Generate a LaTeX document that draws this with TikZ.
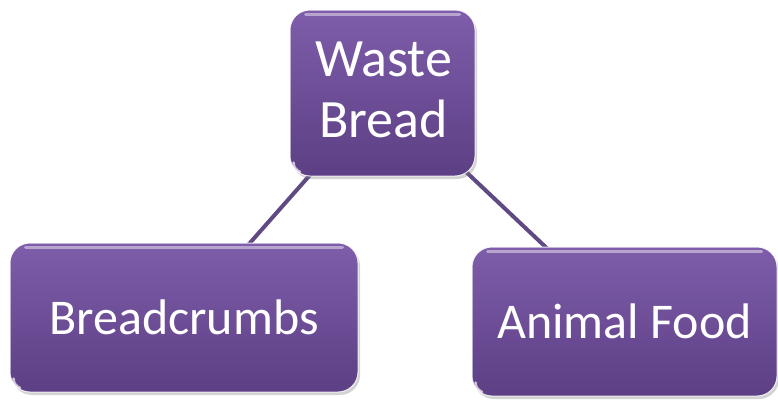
\documentclass[tikz,border=0pt]{standalone}
\usepackage{fontspec}
\setmainfont{Carlito}
\usetikzlibrary{shadows,backgrounds,calc}
\definecolor{boxtop}{HTML}{7E5DAA}
\definecolor{boxbot}{HTML}{5C3F84}
\definecolor{linkcol}{HTML}{5F4A83}
\tikzset{
  purplebox/.style={rounded corners=20pt, top color=boxtop, bottom color=boxbot,
    draw=white, draw opacity=0.85, line width=1pt, text=white,
    font=\fontsize{50}{62}\selectfont, align=center, inner sep=0pt,
    drop shadow={opacity=0.35, shadow xshift=2pt, shadow yshift=-3pt}},
  link/.style={draw=linkcol, line width=4pt},
  gloss/.style={draw=white, opacity=0.45, line width=3pt, line cap=round}
}
\begin{document}
\begin{tikzpicture}[x=1pt,y=-1pt]
\useasboundingbox (0,0) rectangle (778,399);
\node[purplebox, minimum width=185pt, minimum height=166pt] (top) at (382.5,93) {};
\node[text=white, font=\fontsize{54}{61}\selectfont, align=center, inner sep=0pt] (toplabel) at (383.5,90) {Waste\\Bread};
\node[purplebox, minimum width=348pt, minimum height=149pt] (left) at (184,317.5) {Breadcrumbs};
\node[purplebox, minimum width=305pt, minimum height=149pt] (right) at (624.5,321.5) {Animal Food};
\begin{scope}[on background layer]
\draw[link] (top.center) -- (left.center);
\draw[link] (top.center) -- (right.center);
\end{scope}
\foreach \n in {top,left,right}{
  \draw[gloss] ($(\n.north west)+(16,5)$) -- ($(\n.north east)+(-16,5)$);
  \draw[draw=white, opacity=0.7, line width=2.5pt, line cap=round]
    ($(\n.south west)+(4,-14)$) arc[start angle=180, end angle=250, radius=10pt];
}
\end{tikzpicture}
\end{document}
